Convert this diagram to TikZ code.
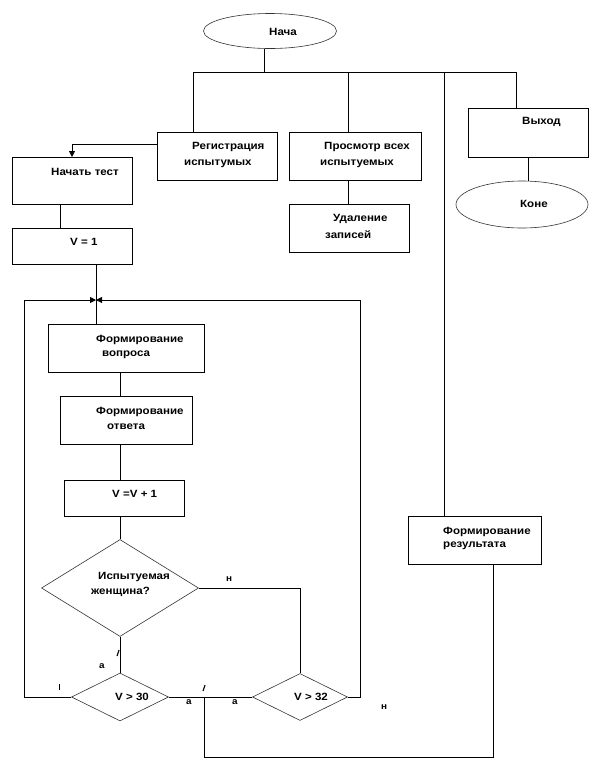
\documentclass[tikz,border=0pt]{standalone}
\usepackage{fontspec}
\setmainfont{Liberation Sans}[FakeStretch=1.1]
\usetikzlibrary{shapes.geometric,arrows.meta}
\begin{document}
\begin{tikzpicture}[x=1pt,y=-1pt,
 box/.style={draw, line width=0.8pt, rectangle, inner sep=0pt, anchor=north west},
 oval/.style={draw=black!80, line width=0.6pt, ellipse, inner sep=0pt},
 dia/.style={draw=black!80, line width=0.6pt, diamond, inner sep=0pt},
 txt/.style={anchor=west, inner sep=0pt, font=\fontsize{10.5}{12}\selectfont\bfseries},
 lbl/.style={inner sep=0pt, font=\fontsize{9}{10}\selectfont\bfseries},
 ln/.style={line width=0.8pt},
 arr/.style={ln, -{Triangle[length=6pt,width=6pt]}},
]
\useasboundingbox (0,0) rectangle (591,780);

% shapes
\node[oval, minimum width=133, minimum height=35] (nach) at (270,31) {};
\node[box, minimum width=120, minimum height=48] (reg) at (157,132) {};
\node[box, minimum width=132, minimum height=48] (view) at (289,132) {};
\node[box, minimum width=120, minimum height=48] (del) at (289,204) {};
\node[box, minimum width=120, minimum height=49] (exit) at (468,108) {};
\node[oval, minimum width=132, minimum height=47] (kon) at (522,204.5) {};
\node[box, minimum width=120, minimum height=47] (start) at (12,157) {};
\node[box, minimum width=120, minimum height=36] (v1) at (12,228) {};
\node[box, minimum width=156, minimum height=48] (fq) at (48,324) {};
\node[box, minimum width=132, minimum height=48] (fa) at (60,396) {};
\node[box, minimum width=120, minimum height=36] (vv) at (64,480) {};
\node[box, minimum width=133, minimum height=48] (res) at (408,516) {};
\node[dia, minimum width=157, minimum height=97] (d1) at (120,588) {};
\node[dia, minimum width=97, minimum height=48] (d2) at (120,697) {};
\node[dia, minimum width=95, minimum height=47] (d3) at (300,697) {};

% texts
\node[txt] (t0) at (269,32) {Нача};
\node[txt] (t1) at (192,147) {Регистрация};
\node[txt] (t2) at (184,164) {испытумых};
\node[txt] (t3) at (324,147) {Просмотр всех};
\node[txt] (t4) at (320,164) {испытуемых};
\node[txt] (t5) at (333,219) {Удаление};
\node[txt] (t6) at (325,235) {записей};
\node[txt] (t7) at (522,122) {Выход};
\node[txt] (t8) at (520,204) {Коне};
\node[txt] (t9) at (51,172) {Начать тест};
\node[txt] (t10) at (70,242) {V = 1};
\node[txt] (t11) at (96,340) {Формирование};
\node[txt] (t12) at (102,355) {вопроса};
\node[txt] (t13) at (96,412) {Формирование};
\node[txt] (t14) at (107,427) {ответа};
\node[txt] (t15) at (112,494) {V =V + 1};
\node[txt] (t16) at (98,577) {Испытуемая};
\node[txt] (t17) at (91,592) {женщина?};
\node[txt] (t18) at (115,697) {V > 30};
\node[txt] (t19) at (294,697) {V > 32};
\node[txt] (t20) at (443,532) {Формирование};
\node[txt] (t21) at (443,546) {результата};

% branch labels
\node[lbl] (n1) at (229,579) {н};
\node[lbl] (n2) at (384,707) {н};
\node[lbl] (a1) at (102,666) {а};
\node[lbl] (a2) at (189,702) {а};
\node[lbl] (a3) at (235,702) {а};
\draw[line width=1.1pt] (117,656) -- (119,650);
\draw[line width=1.1pt] (203,691) -- (205,685);
\draw[line width=0.9pt] (59,684) -- (59,690);

% connectors
\coordinate (j0) at (264,72);
\coordinate (bA) at (193,72);
\coordinate (bB) at (348,72);
\coordinate (bC) at (444,72);
\coordinate (bD) at (516,72);
\draw[ln] (nach.south -| j0) -- (j0);
\draw[ln] (bA) -- (bD);
\draw[ln] (bA) -- (bA |- reg.north);
\draw[ln] (bB) -- (bB |- view.north);
\draw[ln] (bC) -- (bC |- res.north);
\draw[ln] (bD) -- (bD |- exit.north);
\draw[ln] (view.south -| bB) -- (del.north -| bB);
\coordinate (xe) at (528,0);
\draw[ln] (exit.south -| xe) -- (kon.north -| xe);

\coordinate (ta) at (72,144);
\draw[arr] (reg.west |- ta) -- (ta) -- (ta |- start.north);
\coordinate (xs) at (60,0);
\draw[ln] (start.south -| xs) -- (v1.north -| xs);
\coordinate (xm) at (96,0);
\draw[ln] (v1.south -| xm) -- (fq.north -| xm);
\coordinate (xc) at (120,0);
\draw[ln] (fq.south -| xc) -- (fa.north -| xc);
\draw[ln] (fa.south -| xc) -- (vv.north -| xc);
\draw[ln] (vv.south -| xc) -- (d1.north);
\draw[ln] (d1.south) -- (d2.north);
\draw[ln] (d2.east) -- (d3.west);
\draw[ln] (d1.east) -| (d3.north);

\coordinate (lt) at (96,300);
\coordinate (lc) at (24,300);
\coordinate (rc) at (360,300);
\draw[arr] (d2.west) -| (lc) -- (lt);
\draw[arr] (d3.east) -| (rc) -- (lt);

\coordinate (b1) at (204,697);
\coordinate (b2) at (204,757);
\coordinate (xr) at (493,0);
\draw[ln] (b1) -- (b2) -- (b2 -| xr) -- (res.south -| xr);
\end{tikzpicture}
\end{document}
